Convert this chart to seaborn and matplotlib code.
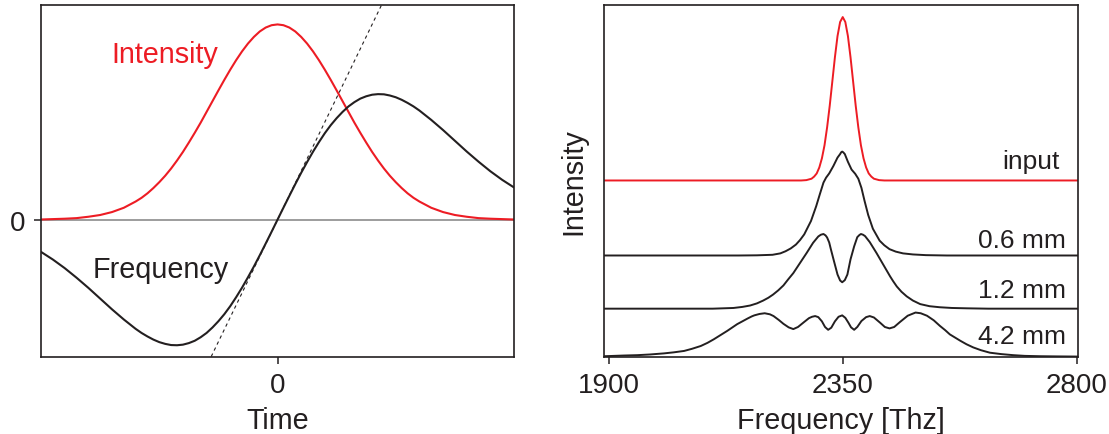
import numpy as np
import matplotlib
matplotlib.use('Agg')
import matplotlib.pyplot as plt
import seaborn as sns

# ---- left panel: pulse in the time domain ----
time = [-1.0, -0.95, -0.9, -0.85, -0.8, -0.75, -0.7, -0.65, -0.6, -0.575, -0.55, -0.525,
        -0.5, -0.475, -0.45, -0.425, -0.4, -0.375, -0.35, -0.325, -0.3, -0.275, -0.25,
        -0.225, -0.2, -0.175, -0.15, -0.125, -0.1, -0.075, -0.05, -0.025, 0.0,
        0.025, 0.05, 0.075, 0.1, 0.125, 0.15, 0.175, 0.2, 0.225, 0.25, 0.275, 0.3,
        0.325, 0.35, 0.375, 0.4, 0.425, 0.45, 0.475, 0.5, 0.525, 0.55, 0.575, 0.6,
        0.65, 0.7, 0.75, 0.8, 0.85, 0.9, 0.95, 1.0]
intensity = [0.001, 0.003, 0.005, 0.008, 0.015, 0.024, 0.039, 0.061, 0.093, 0.112, 0.135, 0.162,
             0.192, 0.225, 0.262, 0.303, 0.347, 0.395, 0.445, 0.497, 0.552, 0.607, 0.662,
             0.716, 0.768, 0.817, 0.862, 0.902, 0.936, 0.964, 0.984, 0.996, 1.0,
             0.996, 0.984, 0.964, 0.936, 0.902, 0.862, 0.817, 0.768, 0.716, 0.662, 0.607, 0.552,
             0.497, 0.445, 0.395, 0.347, 0.303, 0.262, 0.225, 0.192, 0.162, 0.135, 0.112, 0.093,
             0.061, 0.039, 0.024, 0.015, 0.008, 0.005, 0.003, 0.001]
frequency = [-0.165, -0.204, -0.248, -0.297, -0.349, -0.404, -0.459, -0.511, -0.559, -0.580, -0.598, -0.614,
             -0.627, -0.636, -0.642, -0.643, -0.640, -0.632, -0.620, -0.602, -0.580, -0.552, -0.520,
             -0.484, -0.443, -0.397, -0.348, -0.295, -0.240, -0.182, -0.122, -0.0615, 0.0,
             0.0615, 0.122, 0.182, 0.240, 0.295, 0.348, 0.397, 0.443, 0.484, 0.520, 0.552, 0.580,
             0.602, 0.620, 0.632, 0.640, 0.643, 0.642, 0.636, 0.627, 0.614, 0.598, 0.580, 0.559,
             0.511, 0.459, 0.404, 0.349, 0.297, 0.248, 0.204, 0.165]
chirp_slope = 2.5  # dashed tangent through the pulse centre

# ---- right panel: spectra after propagation ----
input_thz = [1892, 2270, 2280, 2290, 2295, 2300, 2305, 2310, 2315, 2320, 2325, 2330, 2335,
             2340, 2345, 2350, 2355, 2360, 2365, 2370, 2375, 2380, 2385, 2390, 2395,
             2400, 2405, 2410, 2420, 2430, 2803]
input_int = [0, 0, 0.01, 0.05, 0.11, 0.20, 0.37, 0.63, 1.00, 1.51, 2.12, 2.81, 3.50,
             4.10, 4.50, 4.64, 4.50, 4.10, 3.50, 2.81, 2.12, 1.51, 1.00, 0.63, 0.37,
             0.20, 0.11, 0.05, 0.01, 0, 0]

mm06_thz = [1892, 2150, 2185, 2215, 2230, 2240, 2250, 2260, 2268, 2276, 2289, 2299, 2306,
            2313, 2318, 2324, 2332, 2340, 2345, 2347, 2349, 2351, 2354, 2360, 2367, 2374,
            2380, 2386, 2392, 2399, 2408, 2421, 2430, 2440, 2452, 2466, 2485, 2510, 2550, 2803]
mm06_int = [0, 0, 0.005, 0.02, 0.06, 0.12, 0.20, 0.31, 0.44, 0.60, 0.98, 1.40, 1.74,
            2.07, 2.21, 2.33, 2.54, 2.78, 2.88, 2.93, 2.95, 2.93, 2.88, 2.66, 2.44, 2.32,
            2.18, 1.92, 1.55, 1.15, 0.76, 0.42, 0.29, 0.18, 0.11, 0.06, 0.03, 0.01, 0, 0]

mm12_thz = [1892, 2100, 2140, 2157, 2172, 2185, 2197, 2207, 2216, 2226, 2236, 2245, 2255,
            2268, 2281, 2293, 2303, 2308, 2313, 2317, 2320, 2324, 2327, 2333, 2340, 2345,
            2349, 2354, 2359, 2365, 2372, 2378, 2382, 2385, 2389, 2393, 2402, 2415, 2428,
            2441, 2447, 2454, 2463, 2473, 2485, 2499, 2517, 2537, 2560, 2589, 2630, 2803]
mm12_int = [0, 0, 0.02, 0.05, 0.09, 0.15, 0.23, 0.31, 0.40, 0.52, 0.66, 0.83, 1.01,
            1.30, 1.59, 1.87, 2.05, 2.10, 2.12, 2.08, 2.02, 1.88, 1.70, 1.36, 0.97, 0.80,
            0.75, 0.81, 0.97, 1.40, 1.77, 2.03, 2.09, 2.12, 2.10, 2.06, 1.89, 1.58, 1.25,
            0.92, 0.78, 0.63, 0.48, 0.35, 0.23, 0.13, 0.07, 0.04, 0.02, 0.01, 0, 0]

mm42_thz = [1892, 1930, 1955, 1980, 2006, 2025, 2045, 2060, 2077, 2090, 2102, 2115, 2128,
            2138, 2147, 2157, 2167, 2175, 2180, 2190, 2200, 2210, 2217, 2227, 2236, 2246,
            2255, 2264, 2274, 2285, 2291, 2297, 2303, 2310, 2316, 2322, 2328, 2335, 2342,
            2349, 2355, 2361, 2366, 2372, 2378, 2386, 2395, 2402, 2410, 2422, 2431, 2440,
            2449, 2460, 2475, 2490, 2500, 2512, 2525, 2537, 2547, 2556, 2566, 2576, 2588,
            2601, 2616, 2633, 2655, 2678, 2700, 2729, 2760, 2803]
mm42_int = [0.01, 0.03, 0.04, 0.06, 0.09, 0.12, 0.16, 0.22, 0.30, 0.39, 0.49, 0.61, 0.73,
            0.83, 0.92, 1.00, 1.08, 1.14, 1.17, 1.21, 1.23, 1.20, 1.15, 1.04, 0.93, 0.83,
            0.78, 0.84, 0.96, 1.09, 1.13, 1.15, 1.12, 1.00, 0.84, 0.76, 0.82, 1.00, 1.13,
            1.17, 1.10, 0.96, 0.83, 0.76, 0.84, 1.01, 1.12, 1.15, 1.11, 0.96, 0.84, 0.80,
            0.84, 0.98, 1.16, 1.25, 1.23, 1.16, 1.03, 0.87, 0.75, 0.63, 0.54, 0.45, 0.35,
            0.26, 0.18, 0.11, 0.07, 0.04, 0.02, 0.01, 0.005, 0]

spectrum_names = ['input', '0.6 mm', '1.2 mm', '4.2 mm']
spectrum_offsets = [5.0, 2.87, 1.36, 0.0]
freq_ticks = [1900, 2350, 2800]

RED = '#ed1c24'
INK = '#231f20'

sns.set_theme(style='ticks')
plt.rcParams['font.family'] = ['Liberation Sans', 'DejaVu Sans']
plt.rcParams['text.color'] = INK
plt.rcParams['axes.labelcolor'] = INK
plt.rcParams['xtick.color'] = INK
plt.rcParams['ytick.color'] = INK

fig = plt.figure(figsize=(11.09, 4.35), dpi=100)
ax1 = fig.add_axes([0.037, 0.178, 0.4265, 0.808])
ax2 = fig.add_axes([0.5449, 0.178, 0.4274, 0.808])

for ax in (ax1, ax2):
    for sp in ax.spines.values():
        sp.set_visible(True)
        sp.set_color(INK)
        sp.set_linewidth(1.2)
    ax.tick_params(direction='out', length=5, width=1.1, labelsize=20, pad=6)

# left panel
ax1.axhline(0, color='#8c8c8c', lw=1.2, zorder=1)
sns.lineplot(x=time, y=intensity, color=RED, lw=1.5, sort=False, ax=ax1)
sns.lineplot(x=time, y=frequency, color=INK, lw=1.5, sort=False, ax=ax1)
ax1.axline((0, 0), slope=chirp_slope, color=INK, lw=0.8, ls=(0, (3, 3)))
ax1.set_xlim(-1, 1)
ax1.set_ylim(-0.701, 1.099)
ax1.set_xticks([0])
ax1.set_xticklabels(['0'])
ax1.set_yticks([0])
ax1.set_yticklabels(['0'])
ax1.set_xlabel('Time', fontsize=20.7, labelpad=6)
ax1.text(-0.702, 0.81, 'Intensity', color=RED, fontsize=20.7, ha='left', va='baseline')
ax1.text(-0.781, -0.295, 'Frequency', color=INK, fontsize=20.7, ha='left', va='baseline')

# right panel
spectra = [(input_thz, input_int), (mm06_thz, mm06_int), (mm12_thz, mm12_int), (mm42_thz, mm42_int)]
colors = [RED, INK, INK, INK]
for (thz, vals), off, c in zip(spectra, spectrum_offsets, colors):
    sns.lineplot(x=thz, y=np.array(vals) + off, color=c, lw=1.4, sort=False, ax=ax2)

label_pos = [(2768, 5.36), (2779, 3.12), (2780, 1.69), (2780, 0.39)]
for name, (lx, ly) in zip(spectrum_names, label_pos):
    ax2.text(lx, ly, name, fontsize=19, ha='right', va='baseline')

ax2.set_xlim(1891.5, 2803)
ax2.set_ylim(0, 9.98)
ax2.set_xticks(freq_ticks)
ax2.set_yticks([])
ax2.set_xlabel('Frequency [Thz]', fontsize=20.7, labelpad=6)
ax2.set_ylabel('Intensity', fontsize=20.7, labelpad=12)

fig.savefig('out.png', dpi=100)
